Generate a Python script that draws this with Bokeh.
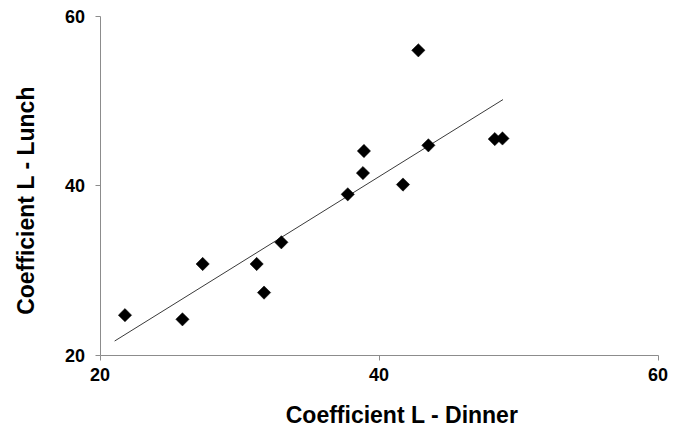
import numpy as np
from bokeh.plotting import figure
from bokeh.models import Range1d, FixedTicker, Label, LinearAxis, ColumnDataSource
from bokeh.embed import file_html
from bokeh.resources import INLINE

# L* colour coefficient measured for each sample at dinner and at lunch
dinner_L = [21.79, 25.91, 27.36, 31.23, 31.76, 33.00, 37.76, 38.85,
            38.92, 41.72, 42.82, 43.54, 48.30, 48.85]
lunch_L = [24.70, 24.21, 30.74, 30.74, 27.36, 33.30, 38.96, 41.47,
           44.07, 40.11, 55.95, 44.74, 45.48, 45.55]

# fitted trend line end points
trend_x = [21.05, 48.89]
trend_y = [21.65, 50.14]

axis_ticks = [20, 40, 60]
x_title = "Coefficient L - Dinner"
y_title = "Coefficient L - Lunch"

# canvas layout (pixels): the axes box spans 20..60 on both axes
W, H = 673, 428
BOX_L, BOX_R, BOX_T, BOX_B = 99.5, 657.5, 15.5, 354.5
LO, HI = 20, 60
kx = (BOX_R - BOX_L) / (HI - LO)
ky = (BOX_B - BOX_T) / (HI - LO)
x_range = Range1d(LO - BOX_L / kx, HI + (W - BOX_R) / kx)
y_range = Range1d(LO - (H - BOX_B) / ky, HI + BOX_T / ky)

FONT = "Liberation Sans"
AXIS_GREY = "#8c8c8c"

p = figure(width=W, height=H, output_backend="svg", toolbar_location=None,
           x_range=x_range, y_range=y_range,
           x_axis_location=None, y_axis_location=None, min_border=0)
p.outline_line_color = None
for g in p.grid:
    g.visible = False
p.background_fill_color = "white"
p.border_fill_color = "white"

# axes pinned at 20 and limited to the 20..60 span
xaxis = LinearAxis(fixed_location=LO, bounds=(LO, HI))
yaxis = LinearAxis(fixed_location=LO, bounds=(LO, HI))
for ax in (xaxis, yaxis):
    ax.ticker = FixedTicker(ticks=axis_ticks)
    ax.axis_line_color = AXIS_GREY
    ax.axis_line_width = 1
    ax.major_tick_line_color = AXIS_GREY
    ax.major_tick_in = 0
    ax.major_tick_out = 5
    ax.minor_tick_line_color = None
    ax.major_label_text_font = FONT
    ax.major_label_text_font_style = "bold"
    ax.major_label_text_font_size = "18px"
    ax.major_label_text_color = "black"
xaxis.major_label_standoff = 8
yaxis.major_label_standoff = 10
p.add_layout(xaxis, "below")
p.add_layout(yaxis, "left")

# trend line and data points
p.line(trend_x, trend_y, line_color="#3a3a3a", line_width=1)
src = ColumnDataSource(dict(x=dinner_L, y=lunch_L))
p.scatter("x", "y", source=src, marker="square", angle=np.pi / 4, size=9.4,
          fill_color="black", line_color="black", line_width=0.5)

# axis titles
p.add_layout(Label(x=401.5, y=13.5, x_units="screen", y_units="screen",
                   text=x_title, text_font=FONT, text_font_style="bold",
                   text_font_size="23px", text_align="center",
                   text_baseline="alphabetic", text_color="black"))
p.add_layout(Label(x=25.5, y=H - 200, x_units="screen", y_units="screen",
                   text=y_title, text_font=FONT, text_font_style="bold",
                   text_font_size="23px", text_align="center",
                   text_baseline="alphabetic", angle=np.pi / 2,
                   text_color="black"))

open("out.html", "w").write(file_html(p, INLINE))
